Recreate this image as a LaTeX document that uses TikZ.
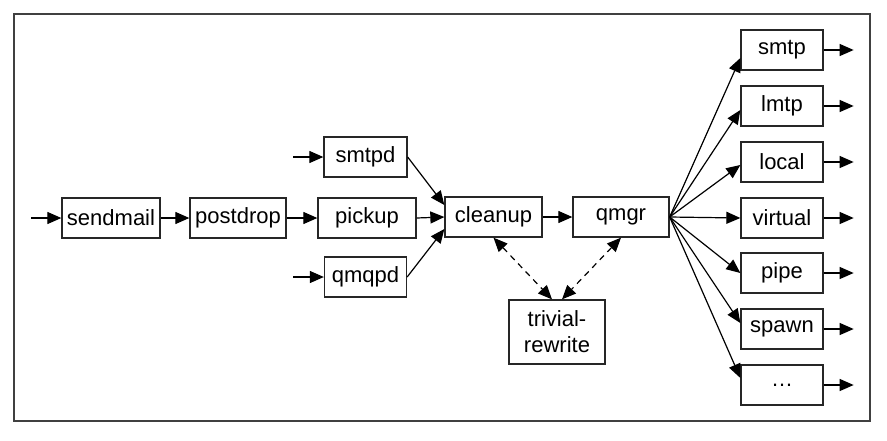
\documentclass[tikz,border=0pt]{standalone}
\usepackage{fontspec}
\setmainfont{Liberation Sans}
\usetikzlibrary{arrows.meta}
\tikzset{box/.style={draw=black!85, line width=1.3pt, minimum height=40pt, inner sep=0pt, font=\fontsize{22}{26}\selectfont, align=center},
  arr/.style={-{Triangle[length=14pt,width=12pt]}, line width=1.2pt},
  dasharr/.style={{Triangle[length=14pt,width=12pt]}-{Triangle[length=14pt,width=12pt]}, line width=1.2pt, dash pattern=on 6pt off 5pt}}

\begin{document}
\begin{tikzpicture}[x=1pt,y=-1pt]
   \useasboundingbox (0,0) rectangle (887,440);
   \draw[black!75, line width=1.8pt] (14,14) rectangle (870,421);

   \node[box, minimum width=98pt] (sendmail) at (111,218) {sendmail};
   \node[box, minimum width=96pt] (postdrop) at (238,218) {postdrop};
   \node[box, minimum width=98pt] (pickup)   at (367,218) {pickup};
   \node[box, minimum width=83pt] (smtpd)    at (365.5,157) {smtpd};
   \node[box, minimum width=82pt] (qmqpd)    at (365.5,277) {qmqpd};
   \node[box, minimum width=97pt] (cleanup)  at (493.5,217) {cleanup};
   \node[box, minimum width=96pt] (qmgr)     at (621,217) {qmgr};
   \node[box, minimum width=96pt, minimum height=64pt] (trivial) at (557,332) {trivial-\\rewrite};

   \coordinate (sendmail-in) at (31,218);
   \coordinate (smtpd-in)    at (293,157);
   \coordinate (qmqpd-in)    at (293,277);

   \draw[arr] (sendmail-in) -- (sendmail);
   \draw[arr] (smtpd-in) -- (smtpd);
   \draw[arr] (qmqpd-in) -- (qmqpd);
   \draw[arr] (sendmail) -- (postdrop);
   \draw[arr] (postdrop) -- (pickup);
   \draw[arr] (smtpd.east) -- ([yshift=12pt]cleanup.west);
   \draw[arr] (pickup.east) -- (cleanup.west);
   \draw[arr] (qmqpd.east) -- ([yshift=-12pt]cleanup.west);
   \draw[arr] (cleanup) -- (qmgr);
   \draw[dasharr] (cleanup.south) -- ([xshift=-5pt]trivial.north);
   \draw[dasharr] (qmgr.south) -- ([xshift=5pt]trivial.north);

   \foreach \n/\txt/\y/\off in {smtp/smtp/50/-8, lmtp/lmtp/106/-4, local/local/162/-3, virtual/virtual/218/0,
                                pipe/pipe/273/0, spawn/spawn/329/6, more/\ldots/385/7} {
     \node[box, minimum width=82pt] (\n) at (782,\y) {\txt};
     \coordinate (\n-out) at ([xshift=30pt]\n.east);
     \draw[arr] (qmgr.east) -- ([yshift=\off pt]\n.west);
     \draw[arr] (\n.east) -- (\n-out);
   }
\end{tikzpicture}
\end{document}
